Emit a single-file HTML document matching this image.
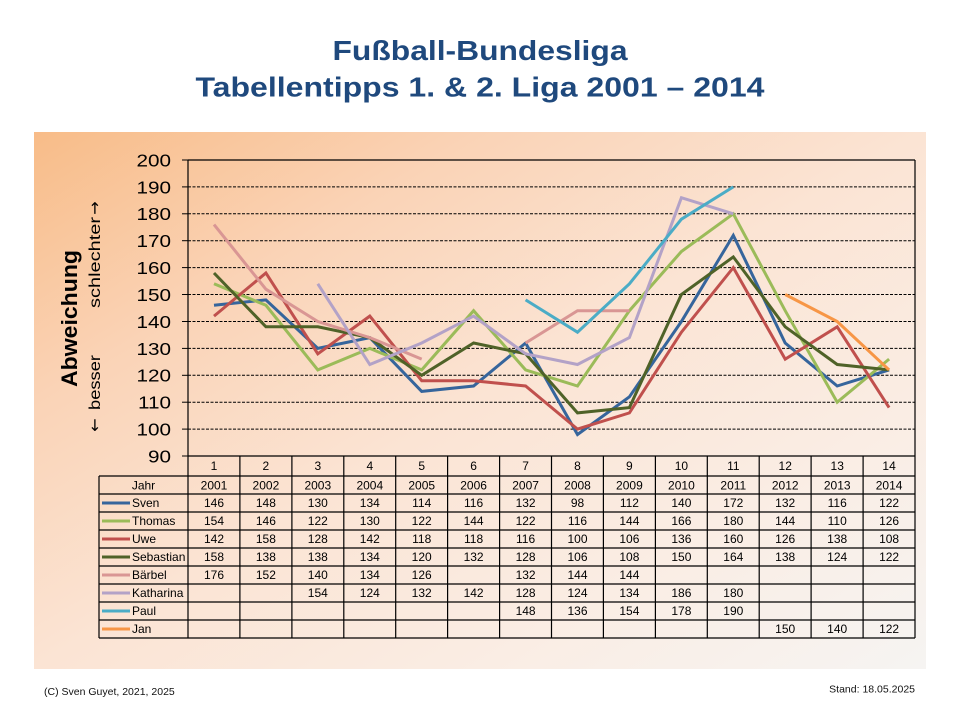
<!DOCTYPE html>
<html><head><meta charset="utf-8"><style>
html,body{margin:0;padding:0;background:#fff;}
svg{display:block;}
text{font-family:"Liberation Sans",Arial,sans-serif;}
</style></head><body>
<svg width="960" height="720" viewBox="0 0 960 720" xmlns="http://www.w3.org/2000/svg">
<defs>
<linearGradient id="bg" x1="0" y1="0" x2="1" y2="1">
<stop offset="0" stop-color="#f8bc88"/>
<stop offset="0.25" stop-color="#fad3b6"/>
<stop offset="0.5" stop-color="#fbe4d4"/>
<stop offset="0.75" stop-color="#faede4"/>
<stop offset="1" stop-color="#f6f4f2"/>
</linearGradient>
</defs>
<rect width="960" height="720" fill="#fff"/>
<rect x="34" y="132" width="892" height="537" fill="url(#bg)"/>

<!-- Title -->
<g fill="#1f497d" font-weight="bold" font-size="28" text-anchor="middle">
<text x="480" y="60" textLength="295" lengthAdjust="spacingAndGlyphs">Fußball-Bundesliga</text>
<text x="480" y="96.7" textLength="569" lengthAdjust="spacingAndGlyphs">Tabellentipps 1. &amp; 2. Liga 2001 – 2014</text>
</g>

<!-- Y axis title -->
<text transform="translate(77,318.5) rotate(-90)" text-anchor="middle" font-size="22" font-weight="bold" fill="#000" textLength="137" lengthAdjust="spacingAndGlyphs">Abweichung</text>
<text transform="translate(100,262.5) rotate(-90)" text-anchor="middle" font-size="16" fill="#000" textLength="91" lengthAdjust="spacingAndGlyphs">schlechter</text>
<text transform="translate(100,208) rotate(-90)" text-anchor="middle" font-size="16" fill="#000" style="font-family:'DejaVu Sans',sans-serif">→</text>
<text transform="translate(100,382.5) rotate(-90)" text-anchor="middle" font-size="16" fill="#000" textLength="55" lengthAdjust="spacingAndGlyphs">besser</text>
<text transform="translate(100,425) rotate(-90)" text-anchor="middle" font-size="16" fill="#000" style="font-family:'DejaVu Sans',sans-serif">←</text>

<!-- Gridlines -->
<g stroke="#000" stroke-width="1" stroke-dasharray="3,1.5">
<line x1="188" y1="186.9" x2="915" y2="186.9"/>
<line x1="188" y1="213.8" x2="915" y2="213.8"/>
<line x1="188" y1="240.7" x2="915" y2="240.7"/>
<line x1="188" y1="267.6" x2="915" y2="267.6"/>
<line x1="188" y1="294.5" x2="915" y2="294.5"/>
<line x1="188" y1="321.5" x2="915" y2="321.5"/>
<line x1="188" y1="348.4" x2="915" y2="348.4"/>
<line x1="188" y1="375.3" x2="915" y2="375.3"/>
<line x1="188" y1="402.2" x2="915" y2="402.2"/>
<line x1="188" y1="429.1" x2="915" y2="429.1"/>
</g>
<!-- ticks -->
<g stroke="#000" stroke-width="1">
<line x1="182" y1="160" x2="188" y2="160"/>
<line x1="182" y1="186.9" x2="188" y2="186.9"/>
<line x1="182" y1="213.8" x2="188" y2="213.8"/>
<line x1="182" y1="240.7" x2="188" y2="240.7"/>
<line x1="182" y1="267.6" x2="188" y2="267.6"/>
<line x1="182" y1="294.5" x2="188" y2="294.5"/>
<line x1="182" y1="321.5" x2="188" y2="321.5"/>
<line x1="182" y1="348.4" x2="188" y2="348.4"/>
<line x1="182" y1="375.3" x2="188" y2="375.3"/>
<line x1="182" y1="402.2" x2="188" y2="402.2"/>
<line x1="182" y1="429.1" x2="188" y2="429.1"/>
<line x1="182" y1="456" x2="188" y2="456"/>
</g>

<!-- Y tick labels -->
<g font-size="18" fill="#000" text-anchor="end">
<text transform="translate(171,166.4) scale(1.15,1)">200</text>
<text transform="translate(171,193.3) scale(1.15,1)">190</text>
<text transform="translate(171,220.2) scale(1.15,1)">180</text>
<text transform="translate(171,247.1) scale(1.15,1)">170</text>
<text transform="translate(171,274.0) scale(1.15,1)">160</text>
<text transform="translate(171,301.0) scale(1.15,1)">150</text>
<text transform="translate(171,327.9) scale(1.15,1)">140</text>
<text transform="translate(171,354.8) scale(1.15,1)">130</text>
<text transform="translate(171,381.7) scale(1.15,1)">120</text>
<text transform="translate(171,408.6) scale(1.15,1)">110</text>
<text transform="translate(171,435.5) scale(1.15,1)">100</text>
<text transform="translate(171,462.4) scale(1.15,1)">90</text>
</g>

<!-- Series -->
<g fill="none" stroke-width="3" stroke-linejoin="miter" stroke-linecap="butt">
<polyline stroke="#36659c" points="214,305.3 265.9,299.9 317.8,348.4 369.8,337.6 421.7,391.4 473.6,386.0 525.6,343.0 577.5,434.5 629.4,396.8 681.4,321.5 733.3,235.4 785.2,343.0 837.2,386.0 889.1,369.9"/>
<polyline stroke="#9bbb59" points="214,283.8 265.9,305.3 317.8,369.9 369.8,348.4 421.7,369.9 473.6,310.7 525.6,369.9 577.5,386.0 629.4,310.7 681.4,251.5 733.3,213.8 785.2,310.7 837.2,402.2 889.1,359.1"/>
<polyline stroke="#c0504d" points="214,316.1 265.9,273.0 317.8,353.8 369.8,316.1 421.7,380.7 473.6,380.7 525.6,386.0 577.5,429.1 629.4,412.9 681.4,332.2 733.3,267.6 785.2,359.1 837.2,326.8 889.1,407.6"/>
<polyline stroke="#4f6228" points="214,273.0 265.9,326.8 317.8,326.8 369.8,337.6 421.7,375.3 473.6,343.0 525.6,353.8 577.5,412.9 629.4,407.6 681.4,294.5 733.3,256.9 785.2,326.8 837.2,364.5 889.1,369.9"/>
<polyline stroke="#d99694" points="214,224.6 265.9,289.2 317.8,321.5 369.8,337.6 421.7,359.1"/>
<polyline stroke="#d99694" points="525.6,343.0 577.5,310.7 629.4,310.7"/>
<polyline stroke="#b3a2c7" points="317.8,283.8 369.8,364.5 421.7,343.0 473.6,316.1 525.6,353.8 577.5,364.5 629.4,337.6 681.4,197.7 733.3,213.8"/>
<polyline stroke="#4bacc6" points="525.6,299.9 577.5,332.2 629.4,283.8 681.4,219.2 733.3,186.9"/>
<polyline stroke="#f79646" points="785.2,294.5 837.2,321.5 889.1,369.9"/>
</g>

<!-- Frame & table lines -->
<g stroke="#000" stroke-width="1.2" fill="none">
<line x1="188" y1="160" x2="915" y2="160"/>
<line x1="188" y1="160" x2="188" y2="638"/>
<line x1="915" y1="160" x2="915" y2="638"/>
<line x1="188" y1="456" x2="915" y2="456"/>
<line x1="99" y1="476" x2="915" y2="476"/>
<line x1="99" y1="494" x2="915" y2="494"/>
<line x1="99" y1="512" x2="915" y2="512"/>
<line x1="99" y1="530" x2="915" y2="530"/>
<line x1="99" y1="548" x2="915" y2="548"/>
<line x1="99" y1="566" x2="915" y2="566"/>
<line x1="99" y1="584" x2="915" y2="584"/>
<line x1="99" y1="602" x2="915" y2="602"/>
<line x1="99" y1="620" x2="915" y2="620"/>
<line x1="99" y1="638" x2="915" y2="638"/>
<line x1="99" y1="476" x2="99" y2="638"/>
<line x1="239.9" y1="456" x2="239.9" y2="638"/>
<line x1="291.9" y1="456" x2="291.9" y2="638"/>
<line x1="343.8" y1="456" x2="343.8" y2="638"/>
<line x1="395.7" y1="456" x2="395.7" y2="638"/>
<line x1="447.6" y1="456" x2="447.6" y2="638"/>
<line x1="499.6" y1="456" x2="499.6" y2="638"/>
<line x1="551.5" y1="456" x2="551.5" y2="638"/>
<line x1="603.4" y1="456" x2="603.4" y2="638"/>
<line x1="655.4" y1="456" x2="655.4" y2="638"/>
<line x1="707.3" y1="456" x2="707.3" y2="638"/>
<line x1="759.2" y1="456" x2="759.2" y2="638"/>
<line x1="811.1" y1="456" x2="811.1" y2="638"/>
<line x1="863.1" y1="456" x2="863.1" y2="638"/>
</g>

<!-- Legend keys -->
<g stroke-width="3">
<line x1="102" y1="503" x2="130" y2="503" stroke="#36659c"/>
<line x1="102" y1="521" x2="130" y2="521" stroke="#9bbb59"/>
<line x1="102" y1="539" x2="130" y2="539" stroke="#c0504d"/>
<line x1="102" y1="557" x2="130" y2="557" stroke="#4f6228"/>
<line x1="102" y1="575" x2="130" y2="575" stroke="#d99694"/>
<line x1="102" y1="593" x2="130" y2="593" stroke="#b3a2c7"/>
<line x1="102" y1="611" x2="130" y2="611" stroke="#4bacc6"/>
<line x1="102" y1="629" x2="130" y2="629" stroke="#f79646"/>
</g>

<!-- Table labels -->
<g font-size="12" fill="#000">
<text x="143.5" y="489.5" text-anchor="middle">Jahr</text>
<text x="132" y="507">Sven</text>
<text x="132" y="525">Thomas</text>
<text x="132" y="543">Uwe</text>
<text x="132" y="561">Sebastian</text>
<text x="132" y="579">Bärbel</text>
<text x="132" y="597">Katharina</text>
<text x="132" y="615">Paul</text>
<text x="132" y="633">Jan</text>
</g>

<g font-size="12" fill="#000" text-anchor="middle">
<!-- category numbers -->
<text x="214" y="470">1</text><text x="265.9" y="470">2</text><text x="317.8" y="470">3</text><text x="369.8" y="470">4</text><text x="421.7" y="470">5</text><text x="473.6" y="470">6</text><text x="525.6" y="470">7</text><text x="577.5" y="470">8</text><text x="629.4" y="470">9</text><text x="681.4" y="470">10</text><text x="733.3" y="470">11</text><text x="785.2" y="470">12</text><text x="837.2" y="470">13</text><text x="889.1" y="470">14</text>
<!-- years -->
<text x="214" y="489.5">2001</text><text x="265.9" y="489.5">2002</text><text x="317.8" y="489.5">2003</text><text x="369.8" y="489.5">2004</text><text x="421.7" y="489.5">2005</text><text x="473.6" y="489.5">2006</text><text x="525.6" y="489.5">2007</text><text x="577.5" y="489.5">2008</text><text x="629.4" y="489.5">2009</text><text x="681.4" y="489.5">2010</text><text x="733.3" y="489.5">2011</text><text x="785.2" y="489.5">2012</text><text x="837.2" y="489.5">2013</text><text x="889.1" y="489.5">2014</text>
<!-- Sven -->
<text x="214" y="507">146</text><text x="265.9" y="507">148</text><text x="317.8" y="507">130</text><text x="369.8" y="507">134</text><text x="421.7" y="507">114</text><text x="473.6" y="507">116</text><text x="525.6" y="507">132</text><text x="577.5" y="507">98</text><text x="629.4" y="507">112</text><text x="681.4" y="507">140</text><text x="733.3" y="507">172</text><text x="785.2" y="507">132</text><text x="837.2" y="507">116</text><text x="889.1" y="507">122</text>
<!-- Thomas -->
<text x="214" y="525">154</text><text x="265.9" y="525">146</text><text x="317.8" y="525">122</text><text x="369.8" y="525">130</text><text x="421.7" y="525">122</text><text x="473.6" y="525">144</text><text x="525.6" y="525">122</text><text x="577.5" y="525">116</text><text x="629.4" y="525">144</text><text x="681.4" y="525">166</text><text x="733.3" y="525">180</text><text x="785.2" y="525">144</text><text x="837.2" y="525">110</text><text x="889.1" y="525">126</text>
<!-- Uwe -->
<text x="214" y="543">142</text><text x="265.9" y="543">158</text><text x="317.8" y="543">128</text><text x="369.8" y="543">142</text><text x="421.7" y="543">118</text><text x="473.6" y="543">118</text><text x="525.6" y="543">116</text><text x="577.5" y="543">100</text><text x="629.4" y="543">106</text><text x="681.4" y="543">136</text><text x="733.3" y="543">160</text><text x="785.2" y="543">126</text><text x="837.2" y="543">138</text><text x="889.1" y="543">108</text>
<!-- Sebastian -->
<text x="214" y="561">158</text><text x="265.9" y="561">138</text><text x="317.8" y="561">138</text><text x="369.8" y="561">134</text><text x="421.7" y="561">120</text><text x="473.6" y="561">132</text><text x="525.6" y="561">128</text><text x="577.5" y="561">106</text><text x="629.4" y="561">108</text><text x="681.4" y="561">150</text><text x="733.3" y="561">164</text><text x="785.2" y="561">138</text><text x="837.2" y="561">124</text><text x="889.1" y="561">122</text>
<!-- Bärbel -->
<text x="214" y="579">176</text><text x="265.9" y="579">152</text><text x="317.8" y="579">140</text><text x="369.8" y="579">134</text><text x="421.7" y="579">126</text><text x="525.6" y="579">132</text><text x="577.5" y="579">144</text><text x="629.4" y="579">144</text>
<!-- Katharina -->
<text x="317.8" y="597">154</text><text x="369.8" y="597">124</text><text x="421.7" y="597">132</text><text x="473.6" y="597">142</text><text x="525.6" y="597">128</text><text x="577.5" y="597">124</text><text x="629.4" y="597">134</text><text x="681.4" y="597">186</text><text x="733.3" y="597">180</text>
<!-- Paul -->
<text x="525.6" y="615">148</text><text x="577.5" y="615">136</text><text x="629.4" y="615">154</text><text x="681.4" y="615">178</text><text x="733.3" y="615">190</text>
<!-- Jan -->
<text x="785.2" y="633">150</text><text x="837.2" y="633">140</text><text x="889.1" y="633">122</text>
</g>

<!-- Footer -->
<text x="44" y="695" font-size="10.5" fill="#111">(C) Sven Guyet, 2021, 2025</text>
<text x="915" y="692.5" font-size="10.5" fill="#111" text-anchor="end">Stand: 18.05.2025</text>
</svg>
</body></html>
